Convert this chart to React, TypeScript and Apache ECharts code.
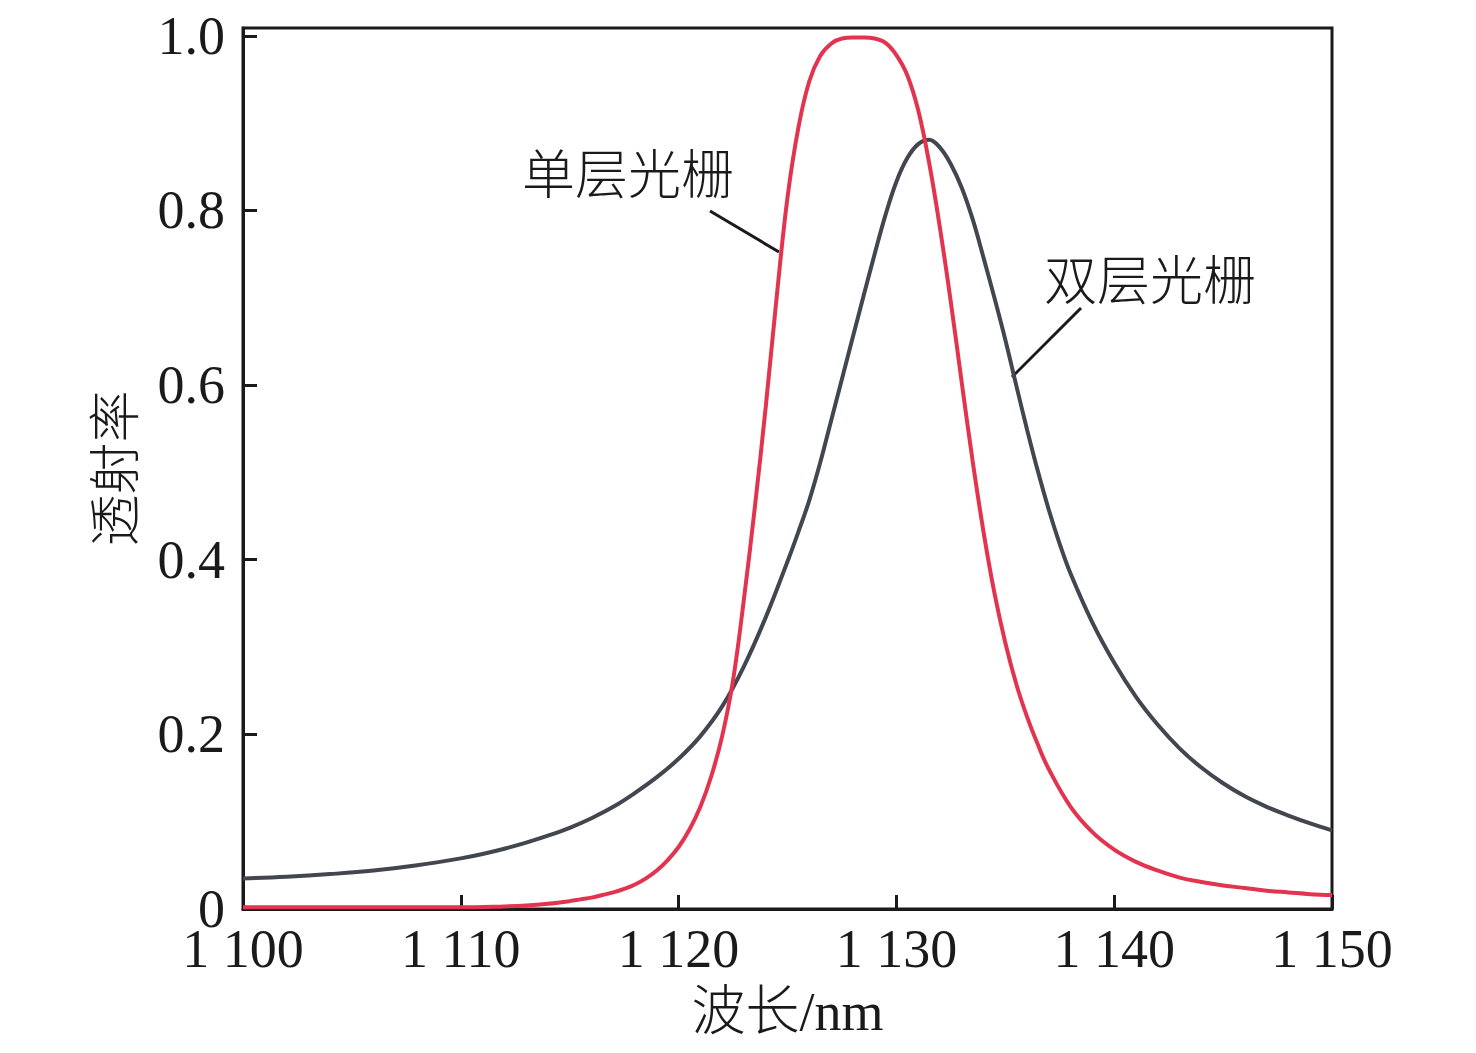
import React, { useEffect, useRef } from 'react';
import * as echarts from 'echarts';

// 单层光栅 transmission (wavelength nm / transmittance)
const singleWl = [
  1100, 1105, 1110, 1112, 1113, 1114, 1115, 1115.5, 1116, 1116.5, 1117, 1117.5, 1118, 1118.5, 1119, 1119.5,
  1120, 1120.5, 1121, 1121.5, 1122, 1122.5, 1123, 1123.5, 1124, 1124.5, 1125, 1125.5, 1126, 1126.5, 1127,
  1127.5, 1128, 1128.5, 1129, 1129.5, 1130, 1130.5, 1131, 1131.5, 1132, 1132.5, 1133, 1133.5, 1134, 1134.5,
  1135, 1135.5, 1136, 1136.5, 1137, 1138, 1139, 1140, 1141, 1142, 1143, 1144, 1145, 1146, 1147, 1148, 1149, 1150,
];
const singleT = [
  0.002, 0.002, 0.002, 0.003, 0.004, 0.006, 0.009, 0.011, 0.013, 0.016, 0.019, 0.023, 0.028, 0.035, 0.044, 0.056,
  0.071, 0.091, 0.117, 0.152, 0.198, 0.262, 0.355, 0.46, 0.575, 0.7, 0.815, 0.895, 0.948, 0.977, 0.991,
  0.997, 0.998, 0.998, 0.997, 0.992, 0.978, 0.955, 0.915, 0.855, 0.78, 0.695, 0.603, 0.513, 0.432, 0.362,
  0.305, 0.258, 0.22, 0.188, 0.16, 0.117, 0.088, 0.068, 0.054, 0.044, 0.036, 0.031, 0.027, 0.024, 0.021, 0.019, 0.017, 0.016,
];

// 双层光栅 transmission
const doubleWl = [
  1100, 1102, 1104, 1106, 1108, 1110, 1111, 1112, 1113, 1114, 1115, 1116, 1117, 1118, 1119, 1120,
  1121, 1122, 1123, 1124, 1125, 1125.5, 1126, 1126.5, 1127, 1127.5, 1128, 1128.5, 1129, 1129.5, 1130,
  1130.5, 1131, 1131.5, 1132, 1132.5, 1133, 1133.5, 1134, 1134.5, 1135, 1135.5, 1136, 1136.5, 1137,
  1137.5, 1138, 1139, 1140, 1141, 1142, 1143, 1144, 1145, 1146, 1147, 1148, 1149, 1150,
];
const doubleT = [
  0.035, 0.037, 0.04, 0.044, 0.05, 0.058, 0.063, 0.069, 0.076, 0.084, 0.093, 0.104, 0.117, 0.133, 0.151, 0.172,
  0.198, 0.232, 0.278, 0.334, 0.398, 0.432, 0.468, 0.511, 0.559, 0.607, 0.655, 0.703, 0.75, 0.795, 0.833,
  0.86, 0.876, 0.881, 0.872, 0.853, 0.826, 0.79, 0.746, 0.7, 0.652, 0.6, 0.549, 0.501, 0.457,
  0.418, 0.384, 0.328, 0.282, 0.243, 0.211, 0.184, 0.162, 0.144, 0.129, 0.117, 0.107, 0.098, 0.09,
];

const xTicks = [1100, 1110, 1120, 1130, 1140, 1150];
const xTickLabels = ['1 100', '1 110', '1 120', '1 130', '1 140', '1 150'];
const yTicks = [0, 0.2, 0.4, 0.6, 0.8, 1.0];
const yTickLabels = ['0', '0.2', '0.4', '0.6', '0.8', '1.0'];

const SERIF = "'Liberation Serif', 'Noto Sans CJK SC', serif";
const CJK = "'Noto Sans CJK SC', 'Liberation Serif', sans-serif";
const INK = '#1a1a1a';

const App: React.FC = () => {
  const chartRef = useRef<HTMLDivElement>(null);

  useEffect(() => {
    const chart = echarts.init(chartRef.current, null, { renderer: 'svg' });

    const option = {
      animation: false,
      backgroundColor: '#fff',
      grid: {
        left: 243,
        right: 144,
        top: 28,
        bottom: 144,
        show: true,
        borderColor: INK,
        borderWidth: 3,
      },
      xAxis: {
        type: 'value',
        min: 1100,
        max: 1150,
        name: '波长/nm',
        nameLocation: 'middle',
        nameGap: 76,
        nameTextStyle: { fontFamily: SERIF, fontSize: 54, color: INK, fontWeight: 300 },
        axisLine: { show: true, lineStyle: { color: INK, width: 3 } },
        axisTick: { show: true, inside: true, length: 14, lineStyle: { color: INK, width: 3 }, customValues: xTicks },
        axisLabel: {
          fontFamily: SERIF,
          fontSize: 54,
          color: INK,
          margin: 19,
          lineHeight: 42,
          customValues: xTicks,
          formatter: (v: number) => xTickLabels[xTicks.indexOf(v)] ?? '',
        },
        splitLine: { show: false },
      },
      yAxis: {
        type: 'value',
        min: 0,
        max: 1.009,
        name: '透射率',
        nameLocation: 'middle',
        nameGap: 106,
        nameTextStyle: { fontFamily: CJK, fontSize: 52, color: INK, fontWeight: 300 },
        axisLine: { show: true, lineStyle: { color: INK, width: 3 } },
        axisTick: { show: true, inside: true, length: 14, lineStyle: { color: INK, width: 3 }, customValues: yTicks },
        axisLabel: {
          fontFamily: SERIF,
          fontSize: 54,
          color: INK,
          margin: 18,
          lineHeight: 30,
          padding: [0, 0, 6, 0],
          customValues: yTicks,
          formatter: (v: number) => {
            const i = yTicks.findIndex((t) => Math.abs(t - v) < 1e-6);
            return i >= 0 ? yTickLabels[i] : '';
          },
        },
        splitLine: { show: false },
      },
      series: [
        {
          name: '单层光栅',
          type: 'line',
          data: singleWl.map((w, i) => [w, singleT[i]]),
          showSymbol: false,
          smooth: 0.4,
          lineStyle: { color: '#e3344f', width: 4 },
          z: 3,
        },
        {
          name: '双层光栅',
          type: 'line',
          data: doubleWl.map((w, i) => [w, doubleT[i]]),
          showSymbol: false,
          smooth: 0.4,
          lineStyle: { color: '#42464e', width: 4 },
          z: 2,
        },
      ],
      graphic: [
        {
          type: 'text',
          x: 628,
          y: 171,
          style: { text: '单层光栅', fontFamily: CJK, fontSize: 53, fontWeight: 300, fill: INK, align: 'center', verticalAlign: 'middle' },
        },
        {
          type: 'line',
          shape: { x1: 710, y1: 211, x2: 779, y2: 252 },
          style: { stroke: INK, lineWidth: 3 },
        },
        {
          type: 'text',
          x: 1150,
          y: 277,
          style: { text: '双层光栅', fontFamily: CJK, fontSize: 53, fontWeight: 300, fill: INK, align: 'center', verticalAlign: 'middle' },
        },
        {
          type: 'line',
          shape: { x1: 1081, y1: 308, x2: 1012, y2: 377 },
          style: { stroke: INK, lineWidth: 3 },
        },
      ],
    };

    chart.setOption(option);

    return () => {
      chart.dispose();
    };
  }, []);

  return (
    <div
      ref={chartRef}
      style={{ position: 'absolute', left: 0, top: 0, width: 1476, height: 1053 }}
    />
  );
};

export default App;
